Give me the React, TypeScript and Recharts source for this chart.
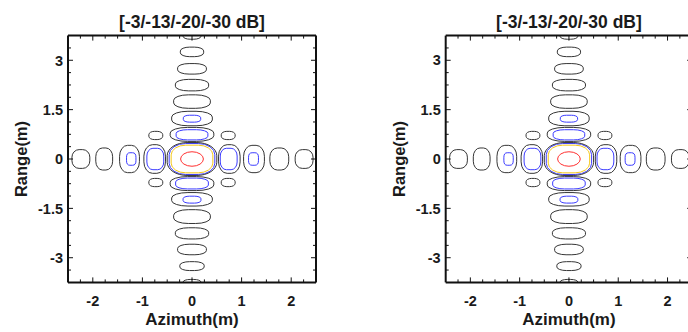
import { ComposedChart, XAxis, YAxis, ReferenceArea, Label, Scatter } from "recharts";

// eslint-disable-next-line @typescript-eslint/no-explicit-any
type Any = any;

const TITLE = "[-3/-13/-20/-30 dB]";
const X_TITLE = "Azimuth(m)";
const Y_TITLE = "Range(m)";

const X_DOMAIN = [-2.5, 2.5];
const Y_DOMAIN = [-3.75, 3.75];
const X_LABELLED = [-2, -1, 0, 1, 2];
const X_TICKS = [-2.25, -2, -1.75, -1.5, -1.25, -1, -0.75, -0.5, -0.25, 0, 0.25, 0.5, 0.75, 1, 1.25, 1.5, 1.75, 2, 2.25];
const Y_LABELLED = [-3, -1.5, 0, 1.5, 3];
const Y_TICKS = [-3.375, -3, -2.625, -2.25, -1.875, -1.5, -1.125, -0.75, -0.375, 0, 0.375, 0.75, 1.125, 1.5, 1.875, 2.25, 2.625, 3, 3.375];

// response peak (0 dB)
const PEAK = [{ az: 0, rg: 0, db: 0 }];

// contour levels (dB) and the extents [x1, x2, y1, y2] of each closed contour
const LEVELS = [-3, -13, -20, -30];
const LEVEL_COLORS = ["#ff3030", "#f5c81a", "#3c3cff", "#353535"];
const LEVEL_ROUND = [1, 0.7, 0.72, 0.8];

const CONTOURS_3DB = [[-0.23, 0.23, -0.22, 0.22]];

const CONTOURS_13DB = [[-0.42, 0.42, -0.42, 0.42]];

const CONTOURS_20DB = [
  [-0.46, 0.46, -0.47, 0.47],
  [-0.32, 0.32, 0.58, 0.89],
  [-0.175, 0.175, 1.12, 1.33],
  [-0.33, 0.33, -0.91, -0.58],
  [-0.18, 0.18, -1.34, -1.13],
  [-0.91, -0.57, -0.325, 0.325],
  [-1.32, -1.13, -0.19, 0.19],
  [0.57, 0.91, -0.325, 0.325],
  [1.14, 1.34, -0.19, 0.19],
];

const CONTOURS_30DB = [
  [-0.5, 0.5, -0.5, 0.5],
  // range sidelobes
  [-0.44, 0.44, 0.535, 0.96],
  [-0.41, 0.41, 1.01, 1.45],
  [-0.37, 0.37, 1.54, 1.95],
  [-0.335, 0.335, 2.07, 2.42],
  [-0.29, 0.29, 2.58, 2.9],
  [-0.235, 0.235, 3.11, 3.4],
  [-0.18, 0.18, 3.64, 3.86],
  [-0.44, 0.44, -0.96, -0.535],
  [-0.41, 0.41, -1.43, -1.02],
  [-0.37, 0.37, -1.96, -1.54],
  [-0.335, 0.335, -2.43, -2.09],
  [-0.29, 0.29, -2.91, -2.59],
  [-0.245, 0.245, -3.39, -3.12],
  [-0.18, 0.18, -3.86, -3.66],
  // azimuth sidelobes
  [-2.42, -2.06, -0.285, 0.285],
  [-1.94, -1.6, -0.335, 0.335],
  [-1.46, -1.06, -0.415, 0.415],
  [-0.97, -0.535, -0.435, 0.435],
  [0.535, 0.97, -0.435, 0.435],
  [1.04, 1.46, -0.415, 0.415],
  [1.57, 1.95, -0.335, 0.335],
  [2.08, 2.44, -0.285, 0.285],
  // cross lobes
  [-0.87, -0.59, 0.59, 0.84],
  [0.59, 0.87, 0.59, 0.84],
  [-0.87, -0.59, -0.84, -0.59],
  [0.59, 0.87, -0.84, -0.59],
];

const CONTOURS = [CONTOURS_3DB, CONTOURS_13DB, CONTOURS_20DB, CONTOURS_30DB];

const FONT = "'Liberation Sans', Arial, sans-serif";
const INK = "#1a1a1a";
const AXIS_LINE = { stroke: "#111", strokeWidth: 2 };

const tickText = { fontFamily: FONT, fontSize: 14.5, fontWeight: 700, fill: INK };

const bottomTick = (p: Any) => {
  const v = p.payload.value;
  const major = X_LABELLED.includes(v);
  return (
    <g>
      <line x1={p.x} x2={p.x} y1={p.y} y2={p.y - (major ? 5 : 3)} stroke="#111" />
      {major && <text x={p.x} y={p.y + 24} textAnchor="middle" style={tickText}>{v}</text>}
    </g>
  );
};

const topTick = (p: Any) => {
  const major = X_LABELLED.includes(p.payload.value);
  return <line x1={p.x} x2={p.x} y1={p.y} y2={p.y + (major ? 5 : 3)} stroke="#111" />;
};

const leftTick = (p: Any) => {
  const v = p.payload.value;
  const major = Y_LABELLED.includes(v);
  return (
    <g>
      <line x1={p.x} x2={p.x + (major ? 5 : 3)} y1={p.y} y2={p.y} stroke="#111" />
      {major && <text x={p.x - 5} y={p.y} dy="0.36em" textAnchor="end" style={tickText}>{v}</text>}
    </g>
  );
};

const rightTick = (p: Any) => {
  const major = Y_LABELLED.includes(p.payload.value);
  return <line x1={p.x} x2={p.x - (major ? 5 : 3)} y1={p.y} y2={p.y} stroke="#111" />;
};

function contourShape(level: number) {
  return (p: Any) => {
    const k = LEVEL_ROUND[level];
    return (
      <rect x={p.x} y={p.y} width={p.width} height={p.height}
        rx={(p.width / 2) * k} ry={(p.height / 2) * k}
        fill="none" stroke={LEVEL_COLORS[level]} strokeWidth={1} clipPath={p.clipPath} />
    );
  };
}

function Panel({ left, yAxisWidth, plotWidth, rightWidth, yTitleX }: {
  left: number; yAxisWidth: number; plotWidth: number; rightWidth: number; yTitleX: number;
}) {
  const width = yAxisWidth + plotWidth + rightWidth;
  return (
    <div style={{ position: "absolute", left, top: 0 }}>
      <ComposedChart width={width} height={332} margin={{ top: 0, right: 0, bottom: 0, left: 0 }}>
        <XAxis xAxisId="az" orientation="bottom" type="number" dataKey="az" domain={X_DOMAIN} ticks={X_TICKS} interval={0} allowDataOverflow
          height={49.6} tickSize={0} tickMargin={0} tickLine={false} axisLine={AXIS_LINE} tick={bottomTick}>
          <Label content={(l: Any) => (
            <text x={l.viewBox.x + l.viewBox.width / 2} y={l.viewBox.y + 42.6} textAnchor="middle"
              style={{ fontFamily: FONT, fontSize: 17, fontWeight: 700, fill: INK }}>{X_TITLE}</text>
          )} />
        </XAxis>
        <XAxis xAxisId="top" orientation="top" type="number" dataKey="az" domain={X_DOMAIN} ticks={X_TICKS} interval={0} allowDataOverflow
          height={35.6} tickSize={0} tickMargin={0} tickLine={false} axisLine={AXIS_LINE} tick={topTick}>
          <Label content={(l: Any) => (
            <text x={l.viewBox.x + l.viewBox.width / 2} y={28} textAnchor="middle"
              style={{ fontFamily: FONT, fontSize: 17.5, fontWeight: 700, fill: INK }}>{TITLE}</text>
          )} />
        </XAxis>
        <YAxis yAxisId="rg" orientation="left" type="number" dataKey="rg" domain={Y_DOMAIN} ticks={Y_TICKS} interval={0} allowDataOverflow
          width={yAxisWidth} tickSize={0} tickMargin={0} tickLine={false} axisLine={AXIS_LINE} tick={leftTick}>
          <Label content={(l: Any) => {
            const cy = l.viewBox.y + l.viewBox.height / 2;
            return (
              <text x={yTitleX} y={cy} textAnchor="middle" transform={`rotate(-90, ${yTitleX}, ${cy})`}
                style={{ fontFamily: FONT, fontSize: 16.5, fontWeight: 700, fill: INK }}>{Y_TITLE}</text>
            );
          }} />
        </YAxis>
        <YAxis yAxisId="right" orientation="right" type="number" dataKey="rg" domain={Y_DOMAIN} ticks={Y_TICKS} interval={0} allowDataOverflow
          width={rightWidth} tickSize={0} tickMargin={0} tickLine={false} axisLine={AXIS_LINE} tick={rightTick} />
        <Scatter xAxisId="az" yAxisId="rg" data={PEAK} dataKey="db" shape={() => <g />} isAnimationActive={false} />
        <Scatter xAxisId="top" yAxisId="right" data={PEAK} dataKey="db" shape={() => <g />} isAnimationActive={false} />
        {CONTOURS.map((list, level) =>
          list.map(([x1, x2, y1, y2], i) => (
            <ReferenceArea key={`${LEVELS[level]}-${i}`} xAxisId="az" yAxisId="rg" x1={x1} x2={x2} y1={y1} y2={y2}
              ifOverflow="hidden" shape={contourShape(level)} />
          ))
        )}
      </ComposedChart>
    </div>
  );
}

export default function App() {
  return (
    <div style={{ position: "absolute", left: 0, top: 0, width: 688, height: 332, overflow: "hidden", background: "#fff" }}>
      <Panel left={0} yAxisWidth={68} plotWidth={248} rightWidth={28} yTitleX={27} />
      <Panel left={344} yAxisWidth={101.7} plotWidth={246.5} rightWidth={12} yTitleX={61} />
    </div>
  );
}
